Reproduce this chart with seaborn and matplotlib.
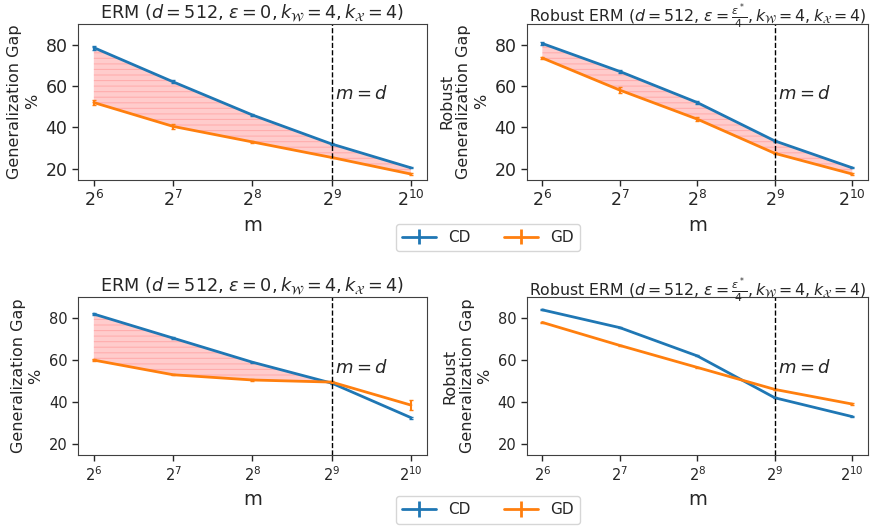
import numpy as np
import pandas as pd
import matplotlib
matplotlib.use('Agg')
import matplotlib.pyplot as plt
import seaborn as sns

# ----------------------------------------------------------------------------------
# data
# ----------------------------------------------------------------------------------
m_values = [64, 128, 256, 512, 1024]
d = 512

# top row
erm_cd = [78.5, 62.0, 46.0, 32.0, 20.5]
erm_gd = [52.0, 40.5, 33.0, 25.5, 17.5]
erm_cd_err = [1.0, 0.7, 0.3, 0.3, 0.3]
erm_gd_err = [1.2, 1.2, 0.3, 0.3, 0.3]

rob_cd = [80.5, 67.0, 52.0, 33.5, 20.5]
rob_gd = [73.5, 58.0, 44.0, 27.5, 17.5]
rob_cd_err = [0.5, 0.6, 0.6, 0.5, 0.3]
rob_gd_err = [0.5, 1.5, 1.0, 0.5, 0.3]

# bottom row
erm2_cd = [82.0, 70.5, 59.0, 49.0, 32.5]
erm2_gd = [60.0, 53.0, 50.5, 49.5, 38.5]
erm2_cd_err = [0.3, 0.4, 0.3, 0.3, 0.5]
erm2_gd_err = [0.3, 0.3, 0.3, 0.5, 2.5]

rob2_cd = [84.0, 75.5, 62.0, 42.0, 33.0]
rob2_gd = [78.0, 67.0, 56.5, 46.0, 39.0]
rob2_cd_err = [0.2, 0.2, 0.2, 0.2, 0.2]
rob2_gd_err = [0.2, 0.2, 0.2, 0.2, 0.6]

methods = ['CD', 'GD']
colors = {'CD': '#1f77b4', 'GD': '#ff7f0e'}

title_erm = r'ERM ($d=512$, $\varepsilon=0, k_{\mathcal{W}}=4, k_{\mathcal{X}}=4$)'
title_rob = r'Robust ERM ($d=512$, $\varepsilon=\frac{\varepsilon^*}{4}, k_{\mathcal{W}}=4, k_{\mathcal{X}}=4$)'

sns.set_style('white')
plt.rcParams['font.family'] = ['DejaVu Sans']
plt.rcParams['mathtext.fontset'] = 'dejavusans'
plt.rcParams['hatch.linewidth'] = 0.8

fig = plt.figure(figsize=(8.81, 5.29), dpi=100)
ax_tl = fig.add_axes([0.0885, 0.660, 0.396, 0.295])
ax_tr = fig.add_axes([0.598, 0.660, 0.387, 0.295])
ax_bl = fig.add_axes([0.0885, 0.140, 0.396, 0.298])
ax_br = fig.add_axes([0.598, 0.140, 0.387, 0.298])


def draw_panel(ax, cd, gd, cd_err, gd_err, title, ylabel, fill, tick_size, title_size, title_pad):
    df = pd.DataFrame({
        'm': m_values * 2,
        'gap': cd + gd,
        'method': ['CD'] * 5 + ['GD'] * 5,
    })
    sns.lineplot(data=df, x='m', y='gap', hue='method', palette=colors,
                 ax=ax, legend=False, linewidth=2)
    ax.errorbar(m_values, cd, yerr=cd_err, fmt='none', ecolor=colors['CD'], elinewidth=1.5, capsize=1.5)
    ax.errorbar(m_values, gd, yerr=gd_err, fmt='none', ecolor=colors['GD'], elinewidth=1.5, capsize=1.5)
    if fill:
        ax.fill_between(m_values, cd, gd, where=np.array(cd) >= np.array(gd), interpolate=True,
                        facecolor=(1, 0, 0, 0.2), edgecolor=(1, 0, 0, 0.15), hatch='---', linewidth=0)
    ax.axvline(d, color='k', linestyle='--', linewidth=1)
    ax.text(d * 1.03, 56, r'$m=d$', fontsize=13, va='center')
    ax.set_xscale('log', base=2)
    ax.set_xticks(m_values)
    ax.set_ylim(14.7, 90)
    ax.set_yticks([20, 40, 60, 80])
    ax.tick_params(axis='both', labelsize=tick_size, length=4, width=1, bottom=True, left=True)
    ax.set_xlabel('m', fontsize=14)
    ax.set_ylabel(ylabel, fontsize=11.5)
    ax.set_title(title, fontsize=title_size, pad=title_pad)
    for s in ax.spines.values():
        s.set_color('0.25')


draw_panel(ax_tl, erm_cd, erm_gd, erm_cd_err, erm_gd_err, title_erm,
           'Generalization Gap\n%', True, 12.5, 12.7, 4)
draw_panel(ax_tr, rob_cd, rob_gd, rob_cd_err, rob_gd_err, title_rob,
           'Robust\nGeneralization Gap\n%', True, 12.5, 11.3, 1.5)
draw_panel(ax_bl, erm2_cd, erm2_gd, erm2_cd_err, erm2_gd_err, title_erm,
           'Generalization Gap\n%', True, 10.5, 12.7, 4)
draw_panel(ax_br, rob2_cd, rob2_gd, rob2_cd_err, rob2_gd_err, title_rob,
           'Robust\nGeneralization Gap\n%', False, 10.5, 11.3, 1.5)

# legend handles in errorbar style
handles = []
for name in methods:
    h = ax_br.errorbar([], [], yerr=[], color=colors[name], linewidth=2, elinewidth=2, label=name)
    handles.append(h)

for y in [0.551, 0.036]:
    fig.legend(handles, methods, loc='center', bbox_to_anchor=(0.554, y), ncol=2,
               fontsize=11, frameon=True, columnspacing=2.2, handlelength=2.2)

fig.savefig('out.png', dpi=100)
